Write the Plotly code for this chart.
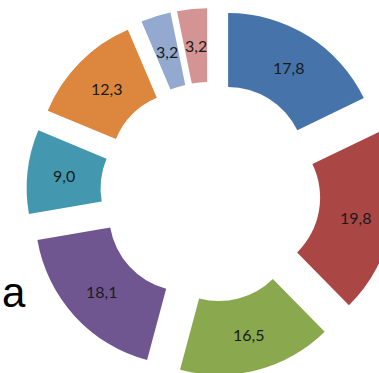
import numpy as np
import plotly.graph_objects as go

# Share of each category (percent), in drawing order starting at 12 o'clock, clockwise
categories = ["A", "B", "C", "D", "E", "F", "G", "H"]
values = [17.8, 19.8, 16.5, 18.1, 9.0, 12.3, 3.2, 3.2]
colors = ["#4674AA", "#AA4644", "#8AA84E", "#705690",
          "#4398B0", "#DC863E", "#93A9D0", "#D49494"]
value_labels = [f"{v:.1f}".replace(".", ",") for v in values]

FIG_W, FIG_H = 400, 380
HOLE = 0.51
PULL = 0.22
# pie box in pixels (left, right, top, bottom) -> paper domain
BOX = (26.5, 394.5, 8, 376)
DOM_X = [BOX[0] / FIG_W, BOX[1] / FIG_W]
DOM_Y = [(FIG_H - BOX[3]) / FIG_H, (FIG_H - BOX[2]) / FIG_H]

fig = go.Figure(
    go.Pie(
        labels=categories,
        values=values,
        textinfo="none",
        marker=dict(colors=colors, line=dict(width=0)),
        hole=HOLE,
        pull=PULL,
        sort=False,
        direction="clockwise",
        rotation=0,
        showlegend=False,
        domain=dict(x=DOM_X, y=DOM_Y),
    )
)

# Value labels sit mid-ring on each pulled slice, following the pie's own geometry
box_w = FIG_W * (DOM_X[1] - DOM_X[0])
box_h = FIG_H * (DOM_Y[1] - DOM_Y[0])
r = min(box_w, box_h) / 2 / (1 + PULL)
cx = FIG_W * (DOM_X[0] + DOM_X[1]) / 2
cy = FIG_H * (DOM_Y[0] + DOM_Y[1]) / 2
vals = np.array(values)
frac = vals / vals.sum()
mid = 2 * np.pi * (np.cumsum(frac) - frac / 2)
rad = PULL * r + r * (1 + HOLE) / 2
for ang, lab in zip(mid, value_labels):
    x = cx + rad * np.sin(ang)
    y = cy + rad * np.cos(ang)
    fig.add_annotation(
        text=lab, xref="paper", yref="paper", x=x / FIG_W, y=y / FIG_H,
        xanchor="center", yanchor="middle", showarrow=False,
        font=dict(family="Lato", size=16, color="#1a1a1a"),
    )

fig.add_annotation(
    text="a", xref="paper", yref="paper", x=0.0, y=(FIG_H - 292) / FIG_H,
    xanchor="left", yanchor="middle", showarrow=False,
    font=dict(family="Liberation Sans", size=42, color="#000000"),
)

fig.update_layout(
    width=FIG_W, height=FIG_H,
    margin=dict(l=0, r=0, t=0, b=0),
    paper_bgcolor="white", plot_bgcolor="white",
)

fig.write_html(
    "out.html",
    post_script="document.documentElement.style.overflow='hidden';"
                "document.body.style.overflow='hidden';document.body.style.margin='0';",
)
